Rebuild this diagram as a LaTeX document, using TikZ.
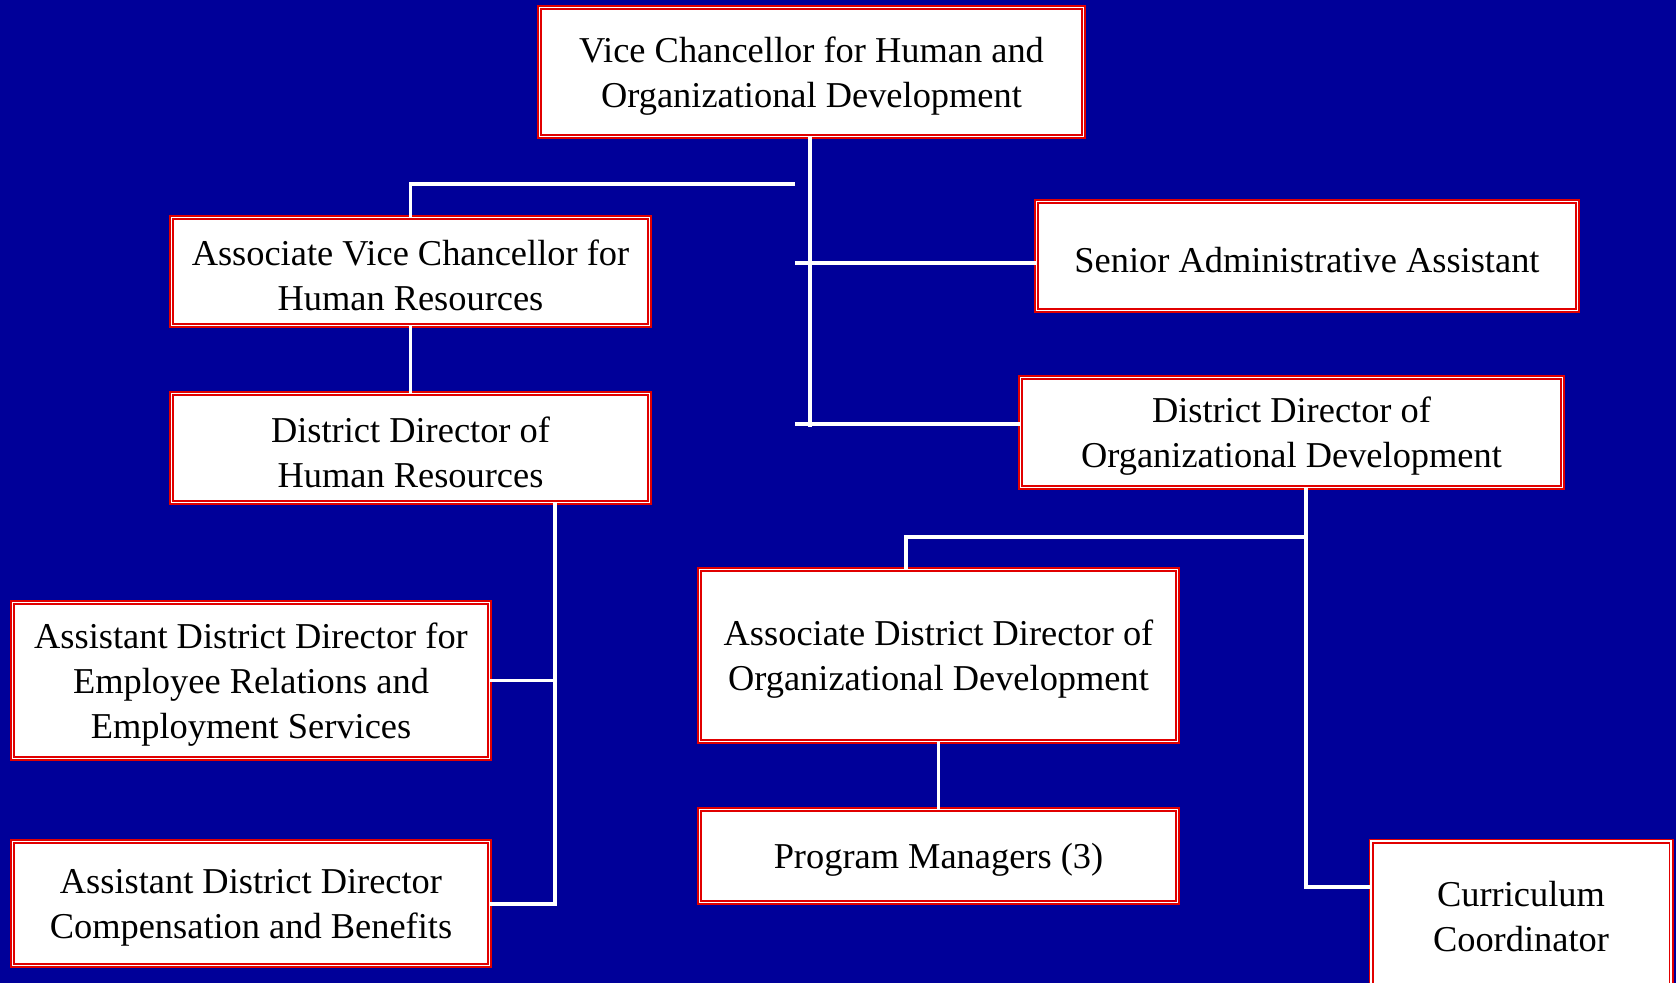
\documentclass[tikz,border=0pt]{standalone}
\usepackage{fontspec}
\setmainfont{Liberation Serif}
\definecolor{bg}{RGB}{0,0,153}
\definecolor{boxred}{RGB}{225,0,0}
\begin{document}
\begin{tikzpicture}[x=0.5pt,y=-0.5pt,
  box/.style={draw=boxred, double=white, double distance=0.8pt, line width=0.85pt,
    fill=white, inner sep=0pt},
  tlabel/.style={align=center, inner sep=0pt, text=black, yshift=-2pt,
    font=\fontsize{18.2}{22.5}\selectfont},
  btext/.style={label={[tlabel]center:{#1}}},
  conn/.style={draw=white, line width=1.7pt}]
\fill[bg] (0,0) rectangle (1676,983);
\useasboundingbox (0,0) rectangle (1676,983);

% boxes
\node[box, minimum width=272pt, minimum height=64.5pt,
  btext={Vice Chancellor for Human and\\Organizational Development}] (vc) at (811.5,72) {};
\node[box, minimum width=239pt, minimum height=54pt,
  btext={Associate Vice Chancellor for\\Human Resources}] (avc) at (410.5,271.5) {};
\node[box, minimum width=270.5pt, minimum height=54.5pt,
  btext={Senior Administrative Assistant}] (sa) at (1307,256) {};
\node[box, minimum width=239pt, minimum height=54.5pt,
  btext={District Director of\\Human Resources}] (ddhr) at (410.5,448) {};
\node[box, minimum width=271pt, minimum height=55pt,
  btext={District Director of\\Organizational Development}] (ddod) at (1291.5,432.5) {};
\node[box, minimum width=238.5pt, minimum height=78pt,
  btext={Assistant District Director for\\Employee Relations and\\Employment Services}] (adder) at (251,680.5) {};
\node[box, minimum width=238.5pt, minimum height=62pt,
  btext={Assistant District Director\\Compensation and Benefits}] (addc) at (251,903.5) {};
\node[box, minimum width=239pt, minimum height=86pt,
  btext={Associate District Director of\\Organizational Development}] (addod) at (938.5,655.5) {};
\node[box, minimum width=239pt, minimum height=46.5pt,
  btext={Program Managers (3)}] (pm) at (938.5,856) {};
\node[box, minimum width=150pt, minimum height=72pt,
  btext={Curriculum\\Coordinator}] (cc) at (1521,913) {};

% junction points
\coordinate (tA) at (810,427);
\coordinate (hrL) at (795,184);
\coordinate (saL) at (795,263);
\coordinate (odL) at (795,424);
\coordinate (hrB) at (555,904);
\coordinate (odB) at (1306,887);
\coordinate (odJ) at (906,537);

% connectors
\draw[conn] (vc.south -| tA) -- (tA);
\draw[conn] (hrL) -- (avc.north |- hrL) -- (avc.north);
\draw[conn] (saL) -- (sa.west |- saL);
\draw[conn] (odL) -- (ddod.west |- odL);
\draw[conn] (avc) -- (ddhr);
\draw[conn] (ddhr.south -| hrB) -- (hrB) -- (addc.east |- hrB);
\draw[conn] (adder.east) -- (adder.east -| hrB);
\draw[conn] (ddod.south -| odB) -- (odB) -- (cc.west |- odB);
\draw[conn] (odJ -| odB) -- (odJ) -- (odJ |- addod.north);
\draw[conn] (addod) -- (pm);
\end{tikzpicture}
\end{document}
